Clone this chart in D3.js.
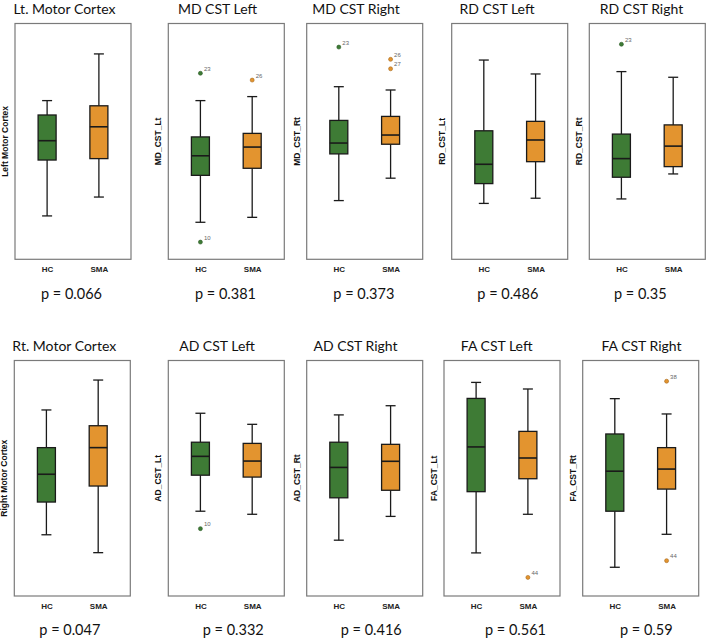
<!DOCTYPE html>
<html>
<head>
<meta charset="utf-8">
<script src="https://cdn.jsdelivr.net/npm/d3@7/dist/d3.min.js"></script>
<style>
  html, body { margin: 0; padding: 0; background: #fff; }
  svg { display: block; }
</style>
</head>
<body>
<svg id="chart" width="708" height="639"></svg>
<script>
// ---- Data (values in % of each panel's y-range; the original has no tick values) ----
const groups = ["HC", "SMA"];
const titles = ["Lt. Motor Cortex", "MD CST Left", "MD CST Right", "RD CST Left", "RD CST Right",
                "Rt. Motor Cortex", "AD CST Left", "AD CST Right", "FA CST Left", "FA CST Right"];
const yLabels = ["Left Motor Cortex", "MD_CST_Lt", "MD_CST_Rt", "RD_CST_Lt", "RD_CST_Rt",
                 "Right Motor Cortex", "AD_CST_Lt", "AD_CST_Rt", "FA_CST_Lt", "FA_CST_Rt"];
const pValues = ["p = 0.066", "p = 0.381", "p = 0.373", "p = 0.486", "p = 0.35",
                 "p = 0.047", "p = 0.332", "p = 0.416", "p = 0.561", "p = 0.59"];
// [lowWhisker, q1, median, q3, highWhisker]
const hcStats = [
  [18.4, 42.1, 50.3, 61.2, 67.3],
  [15.7, 35.6, 43.9, 51.9, 67.3],
  [24.9, 44.7, 49.3, 58.9, 73.2],
  [23.7, 32.1, 40.3, 54.5, 84.5],
  [25.6, 34.8, 42.7, 53.1, 79.6],
  [26.0, 39.9, 51.7, 63.0, 79.0],
  [36.0, 51.3, 59.3, 65.3, 77.6],
  [23.7, 41.7, 54.6, 65.3, 76.9],
  [18.3, 44.3, 63.3, 83.9, 90.7],
  [12.2, 36.0, 53.0, 68.8, 83.8]
];
const smaStats = [
  [26.4, 42.7, 56.2, 65.1, 87.1],
  [17.8, 38.6, 47.6, 53.4, 69.0],
  [34.4, 48.8, 52.7, 60.6, 71.8],
  [25.9, 41.4, 50.6, 58.5, 78.6],
  [36.2, 39.3, 48.0, 57.0, 77.2],
  [18.4, 46.7, 63.0, 72.3, 91.7],
  [34.7, 50.5, 57.3, 64.8, 72.9],
  [33.8, 44.9, 57.2, 64.4, 80.8],
  [34.7, 49.8, 58.6, 69.9, 87.9],
  [26.2, 45.4, 53.9, 63.0, 77.3]
];
// outliers: [panelIndex, group, value, caseLabel]
const outliers = [
  [1, "HC", 78.9, "23"], [1, "HC", 7.3, "10"], [1, "SMA", 76.0, "26"],
  [2, "HC", 90.0, "23"], [2, "SMA", 84.8, "26"], [2, "SMA", 80.8, "27"],
  [4, "HC", 91.2, "23"],
  [6, "HC", 28.6, "10"],
  [8, "SMA", 7.9, "44"],
  [9, "SMA", 91.2, "38"], [9, "SMA", 15.0, "44"]
];

// ---- Layout ----
const frameLeft = [15, 168.3, 306.7, 451.7, 589.3, 14.3, 168.3, 306.7, 444, 582.7];
const titleCx  = [64.5, 217.5, 356, 497, 641.5, 64.3, 217, 355.5, 496.7, 641.5];
const pLeft    = [41, 195, 333.3, 477.3, 614, 39.3, 202.7, 340.7, 485, 620];
const rowTop = [23.5, 360.5], rowBottom = [259.3, 596];
const frameW = 116;
const colors = { HC: "#3e7b35", SMA: "#e3942f" };
const boxW = 18, capW = 10;

const svg = d3.select("#chart");

titles.forEach((t, i) => {
  const row = i < 5 ? 0 : 1;
  const x0 = frameLeft[i], top = rowTop[row], bottom = rowBottom[row];
  const g = svg.append("g");

  const x = d3.scalePoint().domain(groups).range([x0, x0 + frameW]).padding(0.62);
  const y = d3.scaleLinear().domain([0, 100]).range([bottom, top]);

  // title
  g.append("text").attr("x", titleCx[i]).attr("y", top - 9.5)
    .attr("text-anchor", "middle").attr("font-family", "Lato, 'Open Sans', sans-serif")
    .attr("font-size", 14).attr("fill", "#111").text(t);

  // frame
  g.append("rect").attr("x", x0).attr("y", top).attr("width", frameW).attr("height", bottom - top)
    .attr("fill", "#fff").attr("stroke", "#7a7a7a").attr("stroke-width", 1.2);

  // y label
  g.append("text")
    .attr("transform", `translate(${x0 - 7},${(top + bottom) / 2}) rotate(-90)`)
    .attr("text-anchor", "middle").attr("font-family", "'Liberation Sans', Arial, sans-serif")
    .attr("font-weight", "bold").attr("font-size", 8.5).attr("fill", "#111").text(yLabels[i]);

  // x axis tick labels
  const xAxis = d3.axisBottom(x).tickSize(0).tickPadding(7);
  const ax = g.append("g").attr("transform", `translate(0,${bottom})`).call(xAxis);
  ax.select(".domain").remove();
  ax.selectAll("text").attr("font-family", "'Liberation Sans', Arial, sans-serif")
    .attr("font-weight", "bold").attr("font-size", 8).attr("fill", "#222");

  // boxes
  const stats = { HC: hcStats[i], SMA: smaStats[i] };
  groups.forEach(grp => {
    const [lo, q1, med, q3, hi] = stats[grp];
    const cx = x(grp);
    const bg = g.append("g").attr("stroke", "#1a1a1a").attr("stroke-width", 1.3);
    bg.append("line").attr("x1", cx).attr("x2", cx).attr("y1", y(hi)).attr("y2", y(q3));
    bg.append("line").attr("x1", cx).attr("x2", cx).attr("y1", y(q1)).attr("y2", y(lo));
    bg.append("line").attr("x1", cx - capW / 2).attr("x2", cx + capW / 2).attr("y1", y(hi)).attr("y2", y(hi));
    bg.append("line").attr("x1", cx - capW / 2).attr("x2", cx + capW / 2).attr("y1", y(lo)).attr("y2", y(lo));
    bg.append("rect").attr("x", cx - boxW / 2).attr("width", boxW)
      .attr("y", y(q3)).attr("height", y(q1) - y(q3)).attr("fill", colors[grp]);
    bg.append("line").attr("x1", cx - boxW / 2).attr("x2", cx + boxW / 2)
      .attr("y1", y(med)).attr("y2", y(med)).attr("stroke-width", 1.6);
  });

  // outliers
  outliers.filter(o => o[0] === i).forEach(([, grp, v, lab]) => {
    const cx = x(grp), cy = y(v);
    g.append("circle").attr("cx", cx).attr("cy", cy).attr("r", 2)
      .attr("fill", colors[grp]).attr("stroke", grp === "HC" ? "#2c5a26" : "#a86a1c").attr("stroke-width", 0.6);
    g.append("text").attr("x", cx + 3.5).attr("y", cy - 2.5)
      .attr("font-family", "'Liberation Sans', Arial, sans-serif").attr("font-size", 6)
      .attr("fill", "#666").text(lab);
  });

  // p value
  g.append("text").attr("x", pLeft[i]).attr("y", row === 0 ? 298.5 : 634.5)
    .attr("font-family", "Lato, 'Open Sans', sans-serif").attr("font-size", 14.5).attr("fill", "#111")
    .text(pValues[i]);
});
</script>
</body>
</html>
